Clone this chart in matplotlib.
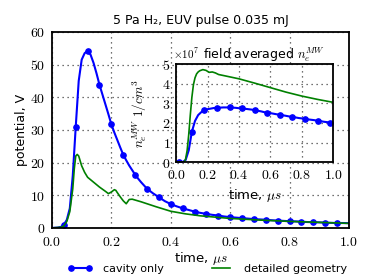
import matplotlib
matplotlib.use("Agg")
import matplotlib.pyplot as plt
from matplotlib.ticker import FuncFormatter, MultipleLocator

# main panel: cavity only (potential, V)
t_cavity = [0.00, 0.01, 0.02, 0.03, 0.04, 0.05, 0.06, 0.07, 0.08, 0.09,
            0.10, 0.11, 0.12, 0.13, 0.14, 0.15, 0.16, 0.17, 0.18, 0.19,
            0.20, 0.21, 0.22, 0.23, 0.24, 0.25, 0.26, 0.27, 0.28, 0.29,
            0.30, 0.32, 0.34, 0.36, 0.38, 0.40, 0.42, 0.44, 0.46, 0.48,
            0.50, 0.52, 0.54, 0.56, 0.58, 0.60, 0.62, 0.64, 0.66, 0.68,
            0.70, 0.72, 0.74, 0.76, 0.78, 0.80, 0.82, 0.84, 0.86, 0.88,
            0.90, 0.92, 0.94, 0.96, 0.98, 1.00]
v_cavity = [0.0, 0.05, 0.1, 0.3, 1.0, 2.5, 6.0, 16.0, 31.0, 45.0,
            51.5, 53.5, 54.2, 53.0, 50.5, 47.3, 43.8, 40.8, 37.8, 34.8,
            31.7, 29.2, 26.9, 24.6, 22.4, 20.7, 19.1, 17.7, 16.3, 15.1,
            14.0, 12.0, 10.6, 9.4, 8.2, 7.3, 6.6, 6.0, 5.5, 5.0,
            4.6, 4.3, 4.0, 3.8, 3.5, 3.3, 3.15, 3.0, 2.85, 2.7,
            2.6, 2.5, 2.35, 2.25, 2.15, 2.05, 2.0, 1.9, 1.8, 1.75,
            1.7, 1.6, 1.55, 1.5, 1.5, 1.45]

# main panel: detailed geometry
t_detail = [0.00, 0.03, 0.04, 0.05, 0.06, 0.07, 0.075, 0.08, 0.085, 0.09,
            0.095, 0.10, 0.11, 0.12, 0.14, 0.16, 0.18, 0.19, 0.20, 0.21,
            0.215, 0.22, 0.23, 0.24, 0.25, 0.26, 0.27, 0.30, 0.35, 0.40,
            0.45, 0.50, 0.60, 0.70, 0.80, 0.90, 1.00]
v_detail = [0.0, 0.2, 0.6, 2.0, 5.0, 12.0, 18.0, 22.0, 22.5, 22.0,
            20.5, 19.0, 17.0, 15.5, 14.0, 12.5, 11.2, 10.5, 11.0, 11.7,
            11.5, 10.8, 9.5, 8.3, 7.4, 8.7, 8.8, 8.0, 6.5, 5.1,
            4.3, 3.7, 2.9, 2.4, 2.0, 1.7, 1.4]

# inset: field averaged n_e (units of 1e7 1/cm^3)
t_ne_cavity = [round(0.02 * i, 2) for i in range(51)]
ne_cavity = [0.0, 0.0, 0.0, 0.1, 0.6, 1.55, 2.1, 2.4, 2.55, 2.65,
             2.7, 2.73, 2.76, 2.77, 2.78, 2.79, 2.79, 2.79, 2.78, 2.77,
             2.75, 2.74, 2.72, 2.7, 2.68, 2.65, 2.62, 2.59, 2.55, 2.52,
             2.5, 2.47, 2.44, 2.42, 2.39, 2.36, 2.33, 2.3, 2.28, 2.25,
             2.23, 2.21, 2.18, 2.16, 2.14, 2.11, 2.09, 2.06, 2.04, 2.02,
             2.0]
t_ne_detail = [0.00, 0.05, 0.06, 0.07, 0.08, 0.09, 0.10, 0.11, 0.12, 0.13,
               0.14, 0.15, 0.17, 0.19, 0.21, 0.23, 0.25, 0.27, 0.30, 0.40,
               0.50, 0.60, 0.70, 0.80, 0.90, 1.00]
ne_detail = [0.0, 0.0, 0.15, 0.6, 1.4, 2.4, 3.3, 3.95, 4.3, 4.5,
             4.6, 4.66, 4.72, 4.68, 4.58, 4.6, 4.55, 4.47, 4.42, 4.25,
             4.03, 3.8, 3.57, 3.37, 3.2, 3.05]

plt.rcParams["mathtext.fontset"] = "cm"
plt.rcParams["font.family"] = ["DejaVu Sans"]

BLUE = "#0000ff"
GREEN = "#008000"

one_dec = FuncFormatter(lambda x, pos: r"$%.1f$" % x)
integer = FuncFormatter(lambda x, pos: r"$%d$" % round(x))


def style_axes(ax, fs, pad):
    for sp in ax.spines.values():
        sp.set_linewidth(1.3)
        sp.set_color("black")
    ax.grid(True, color="#444444", linestyle=(0, (1, 3)), linewidth=0.9)
    ax.set_axisbelow(True)
    ax.tick_params(length=0, pad=pad, labelsize=fs)


fig = plt.figure(figsize=(3.74, 2.8), dpi=100)
ax = fig.add_axes([0.139, 0.186, 0.794, 0.70])

marks = [i for i, t in enumerate(t_cavity)
         if 0.03 < t < 0.97 and abs(t / 0.04 - round(t / 0.04)) < 1e-6]
ax.plot(t_cavity, v_cavity, color=BLUE, lw=1.5, marker="o", ms=3.8,
        markevery=marks, label="cavity only")
ax.plot(t_detail, v_detail, color=GREEN, lw=1.2, label="detailed geometry")
ax.set_xlim(0, 1.0)
ax.set_ylim(0, 60)
ax.xaxis.set_major_locator(MultipleLocator(0.2))
ax.yaxis.set_major_locator(MultipleLocator(10))
ax.xaxis.set_major_formatter(one_dec)
ax.yaxis.set_major_formatter(integer)
style_axes(ax, 10, 5)
ax.set_xlabel(r"time, $\mu s$", fontsize=9.5, labelpad=1)
ax.set_ylabel("potential, V", fontsize=9, labelpad=1)
ax.set_title("5 Pa H\u2082, EUV pulse 0.035 mJ", fontsize=9, pad=6)

ins = fig.add_axes([0.471, 0.421, 0.420, 0.35])
ins.set_facecolor("white")
ins.plot(t_ne_cavity, ne_cavity, color=BLUE, lw=1.5, marker="o", ms=3.8,
         markevery=(1, 4))
ins.plot(t_ne_detail, ne_detail, color=GREEN, lw=1.2)
ins.set_xlim(0, 1.0)
ins.set_ylim(0, 5)
ins.xaxis.set_major_locator(MultipleLocator(0.2))
ins.yaxis.set_major_locator(MultipleLocator(1))
ins.xaxis.set_major_formatter(one_dec)
ins.yaxis.set_major_formatter(integer)
style_axes(ins, 10, 4)
ins.set_xlabel(r"time, $\mu s$", fontsize=9.5, labelpad=4)
ins.set_ylabel(r"$n_e^{MW}\ 1/cm^3$", fontsize=9.5, labelpad=9)
ins.set_title(r"field averaged $n_e^{MW}$", fontsize=9, pad=4, x=0.56)
ins.text(-0.02, 1.03, r"$\times10^{7}$", transform=ins.transAxes,
         fontsize=8, ha="left", va="bottom")

fig.legend(loc="lower center", bbox_to_anchor=(0.555, -0.015), ncol=2,
           frameon=False, fontsize=8, numpoints=2, handlelength=2.2,
           columnspacing=4.0, handletextpad=1.0)

fig.savefig("out.png", dpi=100)
